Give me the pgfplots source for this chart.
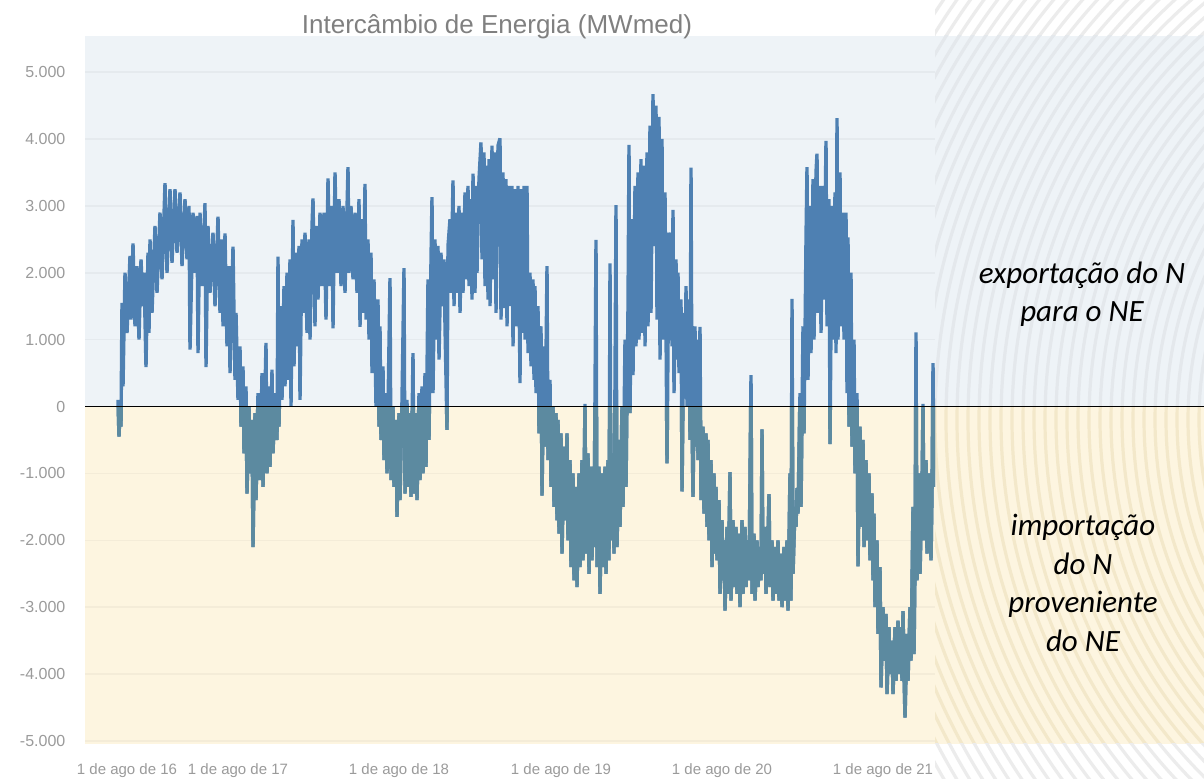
\documentclass[border=0pt]{standalone}
\usepackage{fontspec}
\setmainfont{Liberation Sans}
\newfontfamily\calibri{Carlito}
\usepackage{pgfplots}
\usepackage{pgfplotstable}
\pgfplotsset{compat=1.18}
\pgfdeclarelayer{background}
\pgfsetlayers{background,main}

\definecolor{bgblue}{RGB}{238,243,247}
\definecolor{bgyellow}{RGB}{253,245,224}
\definecolor{lineblue}{RGB}{78,128,178}
\definecolor{lineteal}{RGB}{92,138,160}
\definecolor{ticktext}{RGB}{155,155,155}
\definecolor{titletext}{RGB}{128,128,128}
\definecolor{arcgrey}{RGB}{228,232,236}
\definecolor{arcwhite}{RGB}{236,236,236}
\definecolor{arcgold}{RGB}{243,232,202}

\pgfplotstableread{
x y
118 100
119 -450
120 -50
121 -300
122 1550
123 300
125 2000
127 1100
130 2250
131 1300
133 2440
135 1200
137 2100
139 1000
141 2200
143 1500
144 2000
146 590
148 2300
149 1100
150 2500
152 1400
155 2700
157 1700
160 2900
162 1900
165 3340
167 2000
170 3250
172 2150
175 3250
177 2300
180 3200
182 2100
185 3100
187 2200
189 3000
190 850
193 2900
195 2000
197 2850
198 800
200 2900
202 1800
205 3040
206 590
208 2700
210 1700
213 2600
215 1500
218 2840
220 1400
222 2500
223 1200
225 2590
227 900
229 2100
230 500
233 2390
235 400
236 1400
238 100
240 900
241 -300
243 600
244 -700
246 300
247 -1300
249 0
250 -1000
252 -200
253 -2100
255 -100
256 -1400
258 200
260 -1100
262 500
263 -1200
266 950
267 -1000
269 300
270 -900
272 550
273 -700
275 200
277 -500
278 2240
279 -300
281 1500
282 100
284 1800
285 300
287 2000
288 400
290 2200
291 0
293 2790
294 600
296 2300
297 900
299 2400
300 100
302 2500
303 1400
305 2600
307 1100
309 2500
310 1000
312 2700
313 3110
315 1200
316 2700
318 1600
320 2900
322 1800
324 2900
326 1300
328 3410
330 1800
332 3000
333 1170
335 3500
337 2000
339 3100
341 1800
343 3000
345 1700
348 3580
349 2000
351 3000
353 1900
355 2900
357 1700
359 3100
360 1190
362 2800
363 1400
365 3330
366 1300
368 2500
369 1000
371 2300
372 500
374 1900
376 0
378 1600
379 -300
380 1200
381 -500
383 600
384 -800
386 200
387 -1000
390 1920
391 -1100
393 0
394 -1200
396 -200
397 -1650
399 -100
400 -1400
402 100
404 2070
405 -1300
407 100
408 -1200
410 -100
411 -1350
413 800
414 -1300
416 -100
417 -1400
419 200
420 -1100
422 300
423 -1000
425 500
426 -900
428 1900
429 -500
431 2200
432 3130
433 200
435 2500
436 1000
438 2400
439 700
441 2300
442 1500
444 2200
445 1200
447 -350
448 2400
450 2800
451 1700
453 3380
454 1500
456 2900
457 1700
459 3000
460 1400
462 2900
463 1700
465 3200
466 1900
468 3300
469 1800
471 3100
472 1600
473 3480
475 1700
476 3300
477 2000
479 3400
481 3950
482 2200
484 3800
485 1800
487 3600
488 1600
489 3700
490 1500
492 3900
493 1900
495 3800
496 1400
498 3900
500 4010
501 1300
503 3500
504 1470
506 3400
507 1200
509 3300
510 1500
512 3300
513 900
515 3250
516 1200
518 3300
520 350
521 3250
522 1100
524 3300
525 1000
527 3300
528 800
530 2000
531 600
533 1900
534 400
535 1800
536 200
538 1500
539 -400
541 1200
542 -1330
544 900
545 -600
547 2100
548 -800
550 400
551 -1200
553 0
554 -1500
556 -100
557 -1700
558 -200
559 -1900
561 -400
562 -2200
564 -600
565 -1700
567 -400
568 -2000
570 -800
571 -2400
573 -1000
574 -2600
576 -1200
577 -2700
579 -1000
580 -2400
582 -800
583 -2300
585 40
586 -2200
588 -700
589 -2500
591 -900
592 -2300
593 -1000
594 -2100
596 2490
597 -2400
599 -900
600 -2800
602 -1000
603 -2400
605 -900
606 -2500
608 -800
609 -2300
610 2140
611 -2000
613 -700
614 -2200
616 3010
617 -2100
619 -500
620 -1800
622 0
623 -1500
625 1000
626 -1200
628 1500
629 3910
630 -100
632 2800
633 470
635 3300
636 900
638 3500
639 1000
641 3700
642 1100
644 3600
645 900
647 3800
648 1200
650 4200
651 1400
653 4670
654 2400
656 4500
657 1300
659 4330
660 700
662 4000
663 1000
665 3200
666 1200
667 -850
669 2600
671 2400
672 900
673 2940
674 200
676 2200
677 700
678 2000
679 500
681 1600
682 -1270
684 1400
685 200
686 1800
687 0
689 1600
690 -500
691 3570
692 -200
693 -1350
695 1200
696 -600
697 1000
698 -800
700 1190
701 -1400
703 -300
704 -1600
706 -400
707 -1800
708 -500
709 -2000
711 -800
712 -2400
714 -1000
715 -2200
716 -1200
717 -2300
719 -1400
720 -2800
722 -1700
723 -2600
724 -2000
725 -3050
727 -1800
728 -2800
730 -980
731 -2900
733 -1700
734 -2700
736 -1800
737 -2800
739 -1900
740 -3000
742 -1700
743 -2800
745 -1800
746 -2700
748 -2000
749 -2600
751 470
752 -2800
754 -1900
755 -2900
757 -2000
758 -2700
760 -2100
761 -2600
762 -340
763 -2500
765 -1800
766 -2800
768 -1900
769 -1310
770 -2700
772 -2000
773 -2900
775 -2100
776 -2800
778 -2000
779 -2900
781 -2200
782 -3000
784 -2100
785 -2900
787 -2000
788 -3050
790 -1000
791 -2900
792 1610
793 -2500
795 -1500
796 -1800
797 -1220
798 -1600
800 200
801 -1500
803 1200
804 -400
806 2500
807 3580
808 400
810 3000
811 800
813 3400
814 1000
816 3500
817 3780
818 1400
820 3300
821 1100
823 3300
824 1600
826 3970
827 1200
829 3100
830 -560
832 3000
833 1000
835 3200
836 800
837 4310
838 1000
840 3500
841 1200
843 2900
844 1000
846 2900
847 200
848 2530
849 -300
851 2000
852 -600
854 1000
855 -1000
857 200
858 -2390
860 -300
861 -1800
863 -500
864 -2100
866 -800
867 -2000
869 -1000
870 -2300
872 -1300
873 -2600
874 -1600
875 -3000
877 -2000
878 -3400
880 -2400
881 -4200
883 -3000
884 -3800
886 -3100
887 -4300
889 -3300
890 -4000
892 -3500
893 -4300
895 -3300
896 -4100
898 -3200
899 -4000
901 -3300
902 -4100
903 -3060
904 -4000
905 -4650
907 -3400
908 -4100
910 -3000
911 -3800
913 -1500
914 -3700
915 -2400
916 1110
917 -2600
919 -1000
920 -2500
922 -1200
923 40
924 -2000
926 -800
927 -2200
929 -1000
930 -1500
931 -2300
932 -1300
933 650
934 -1200
}\intercambio

\pgfplotsset{base/.style={
  at={(42.5pt,17.5pt)}, anchor=south west,
  width=425pt, height=354pt, scale only axis,
  xmin=85, xmax=935, ymin=-5045, ymax=5540,
  axis line style={draw=none},
  tick style={draw=none},
}}

\begin{document}
\begin{tikzpicture}
\useasboundingbox (0pt,0pt) rectangle (602pt,389.5pt);
\begin{axis}[base,
  xtick={127,238,399,561,722,883},
  xticklabels={1 de ago de 16,1 de ago de 17,1 de ago de 18,1 de ago de 19,1 de ago de 20,1 de ago de 21},
  ytick={-5000,-4000,-3000,-2000,-1000,0,1000,2000,3000,4000,5000},
  yticklabels={-5.000,-4.000,-3.000,-2.000,-1.000,0,1.000,2.000,3.000,4.000,5.000},
  xticklabel style={font=\fontsize{7.5}{9}\selectfont, text=ticktext, anchor=base, yshift=-15.5pt},
  yticklabel style={font=\fontsize{8}{9.6}\selectfont, text=ticktext, xshift=-6.3pt},
  ymajorgrids,
  major grid style={black, opacity=0.035, line width=0.8pt},
]
\addplot[lineblue, line width=1.7pt, line join=bevel] table {\intercambio};
\coordinate (z0) at (axis cs:85,0);
\end{axis}
\path (602pt,0pt) coordinate (xR);
\path (467.5pt,0pt) coordinate (xP);
\begin{scope}
\clip (42.5pt,0pt) rectangle (xP |- z0);
\begin{axis}[base, hide axis]
\addplot[lineteal, line width=1.7pt, line join=bevel] table {\intercambio};
\end{axis}
\end{scope}

\begin{pgfonlayer}{background}
\fill[white] (0pt,0pt) rectangle (602pt,389.5pt);
\fill[bgblue] (42.5pt,371.5pt) rectangle (xR |- z0);
\fill[bgyellow] (42.5pt,17.5pt) rectangle (xR |- z0);
\begin{scope}
\clip (467.5pt,371.5pt) rectangle (602pt,389.5pt);
\foreach \r in {175,180.5,...,470} {\draw[arcwhite, line width=1.6pt] (780pt,179.5pt) circle (\r pt);}
\end{scope}
\begin{scope}
\clip (467.5pt,371.5pt) rectangle (xR |- z0);
\foreach \r in {175,180.5,...,470} {\draw[arcgrey, line width=1.6pt] (780pt,179.5pt) circle (\r pt);}
\end{scope}
\begin{scope}
\clip (467.5pt,17.5pt) rectangle (xR |- z0);
\foreach \r in {175,180.5,...,470} {\draw[arcgold, line width=1.6pt] (780pt,179.5pt) circle (\r pt);}
\end{scope}
\begin{scope}
\clip (467.5pt,0pt) rectangle (602pt,17.5pt);
\foreach \r in {175,180.5,...,470} {\draw[arcwhite, line width=1.6pt] (780pt,179.5pt) circle (\r pt);}
\end{scope}
\end{pgfonlayer}

\draw[black, line width=0.6pt] (z0) -- (xR |- z0);

\node[text=titletext, font=\fontsize{13}{15}\selectfont] at (248.5pt,376pt) {Intercâmbio de Energia (MWmed)};
\node[align=center, font=\calibri\itshape\fontsize{15.5}{19}\selectfont] at (541pt,242.5pt) {exportação do N\\para o NE};
\node[align=center, font=\calibri\itshape\fontsize{15.5}{19.25}\selectfont] at (541.5pt,98pt) {importação\\do N\\proveniente\\do NE};
\end{tikzpicture}
\end{document}
